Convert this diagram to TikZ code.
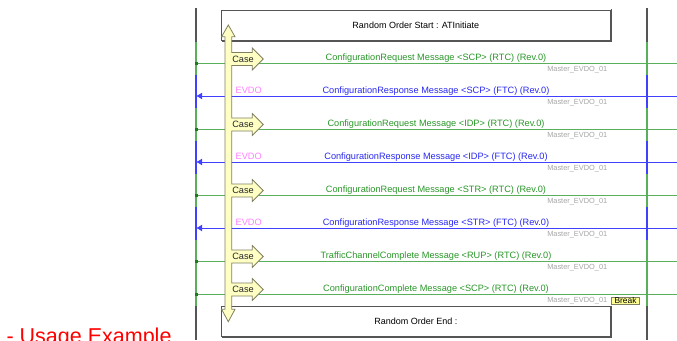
\documentclass[tikz,border=0pt]{standalone}
\usepackage{fontspec}
\setmainfont{Liberation Sans}
\usetikzlibrary{arrows.meta}
\definecolor{lifegray}{RGB}{85,85,85}
\definecolor{lgreen}{RGB}{90,175,90}
\definecolor{lblue}{RGB}{64,64,255}
\definecolor{gtext}{RGB}{40,150,40}
\definecolor{btext}{RGB}{40,40,240}
\definecolor{evdo}{RGB}{255,128,255}
\definecolor{mgray}{RGB}{165,165,165}
\definecolor{yfill}{RGB}{255,255,196}
\definecolor{yline}{RGB}{128,128,96}
\definecolor{bfill}{RGB}{255,255,150}
\begin{document}
\begin{tikzpicture}[x=1pt,y=-1pt,
  lifeseg/.style={line width=2pt},
  reqline/.style={draw=lgreen,line width=1pt},
  respline/.style={draw=lblue,line width=1pt,-{Latex[length=6pt,width=7pt]}},
  dotsq/.style={rectangle,fill=gtext!80!black,minimum size=3pt,inner sep=0pt},
  msgtxt/.style={anchor=base,inner sep=0pt,font=\fontsize{9.2}{11}\selectfont},
  mastertxt/.style={anchor=base east,inner sep=0pt,text=mgray,font=\fontsize{7.4}{9}\selectfont},
  evdotxt/.style={anchor=base west,inner sep=0pt,text=evdo,font=\fontsize{9.2}{11}\selectfont},
  casetxt/.style={inner sep=0pt,font=\fontsize{9.2}{10}\selectfont,text=black!85},
  rangebox/.style={draw=lifegray,line width=1pt,fill=white,minimum width=388.3pt,inner sep=0pt,font=\fontsize{9}{11}\selectfont},
  breakbox/.style={draw=yline,fill=bfill,line width=0.8pt,minimum width=27.5pt,minimum height=7.6pt,inner sep=0pt,font=\fontsize{8.4}{8}\selectfont}
]
\useasboundingbox (0,0) rectangle (677,340);
% lifelines
\foreach \ya/\yb/\c in {8/42/lifegray,42/75/lgreen,75/108/lblue,108/141/lgreen,141/174/lblue,174/207/lgreen,207/240/lblue,240/273/lgreen,273/306/lgreen,306/340/lifegray}{
  \draw[lifeseg,\c] (196,\ya) -- (196,\yb);
  \draw[lifeseg,\c] (647.3,\ya) -- (647.3,\yb);
}
% messages
\foreach \n/\y in {1/63,2/96,3/129,4/162,5/195,6/228,7/261,8/294}{
  \coordinate (m\n L) at (196,\y);
  \coordinate (m\n R) at (677,\y);
  \node[mastertxt] (ms\n) at (607.5,\y+8.5) {Master\_EVDO\_01};
}
\foreach \n in {1,3,5,7,8}{
  \draw[reqline] (m\n L) -- (m\n R);
  \node[dotsq] (d\n) at (m\n L) {};
}
\foreach \n in {2,4,6}{
  \draw[respline] (m\n R) -- (m\n L);
}
\node[msgtxt,text=gtext] (t1) at (436,60.5) {ConfigurationRequest Message <SCP> (RTC) (Rev.0)};
\node[msgtxt,text=btext] (t2) at (436,93.5) {ConfigurationResponse Message <SCP> (FTC) (Rev.0)};
\node[msgtxt,text=gtext] (t3) at (436,126.5) {ConfigurationRequest Message <IDP> (RTC) (Rev.0)};
\node[msgtxt,text=btext] (t4) at (436,159.5) {ConfigurationResponse Message <IDP> (FTC) (Rev.0)};
\node[msgtxt,text=gtext] (t5) at (436,192.5) {ConfigurationRequest Message <STR> (RTC) (Rev.0)};
\node[msgtxt,text=btext] (t6) at (436,225.5) {ConfigurationResponse Message <STR> (FTC) (Rev.0)};
\node[msgtxt,text=gtext] (t7) at (436,258.5) {TrafficChannelComplete Message <RUP> (RTC) (Rev.0)};
\node[msgtxt,text=gtext] (t8) at (436,291.5) {ConfigurationComplete Message <SCP> (RTC) (Rev.0)};
\node[evdotxt] (e2) at (235.5,93.3) {EVDO};
\node[evdotxt] (e4) at (235.5,159.3) {EVDO};
\node[evdotxt] (e6) at (235.5,225.3) {EVDO};
% range boxes
\node[rangebox,minimum height=30.7pt] (start) at (415.85,25.35) {Random Order Start : ATInitiate};
\draw[lifegray,line width=1pt] ([xshift=0.7pt,yshift=0.5pt]start.north east) -- ([xshift=0.7pt,yshift=-0.7pt]start.south east) -- ([xshift=0.5pt,yshift=-0.7pt]start.south west);
\node[rangebox,minimum height=29.3pt] (end) at (415.85,321.35) {Random Order End :};
\draw[lifegray,line width=1pt] ([xshift=0.7pt,yshift=0.5pt]end.north east) -- ([xshift=0.7pt,yshift=-0.7pt]end.south east) -- ([xshift=0.5pt,yshift=-0.7pt]end.south west);
% yellow case arrow
\draw[fill=yfill,draw=yline,line width=0.8pt,line join=miter]
  (228.3,25) -- (235,36.7) -- (231.7,36.7)
  \foreach \c in {59,124.5,190.5,256.5,289.5}{
    -- (231.7,\c-6.5) -- (252.3,\c-6.5) -- (252.3,\c-11) -- (263.3,\c)
    -- (252.3,\c+11) -- (252.3,\c+6.5) -- (231.7,\c+6.5)
  }
  -- (231.7,309.3) -- (235,309.3) -- (228.3,321.7) -- (221.6,309.3) -- (225,309.3)
  -- (225,36.7) -- (221.6,36.7) -- cycle;
\foreach \n/\c in {1/59,2/124.5,3/190.5,4/256.5,5/289.5}{
  \node[casetxt] (case\n) at (243,\c) {Case};
}
\node[breakbox] (brk) at (625.5,300.7) {Break};
\node[anchor=base west,inner sep=0pt,text=red,font=\fontsize{21.5}{24}\selectfont] (usage) at (6.4,343.5) {- Usage Example};
\end{tikzpicture}
\end{document}
